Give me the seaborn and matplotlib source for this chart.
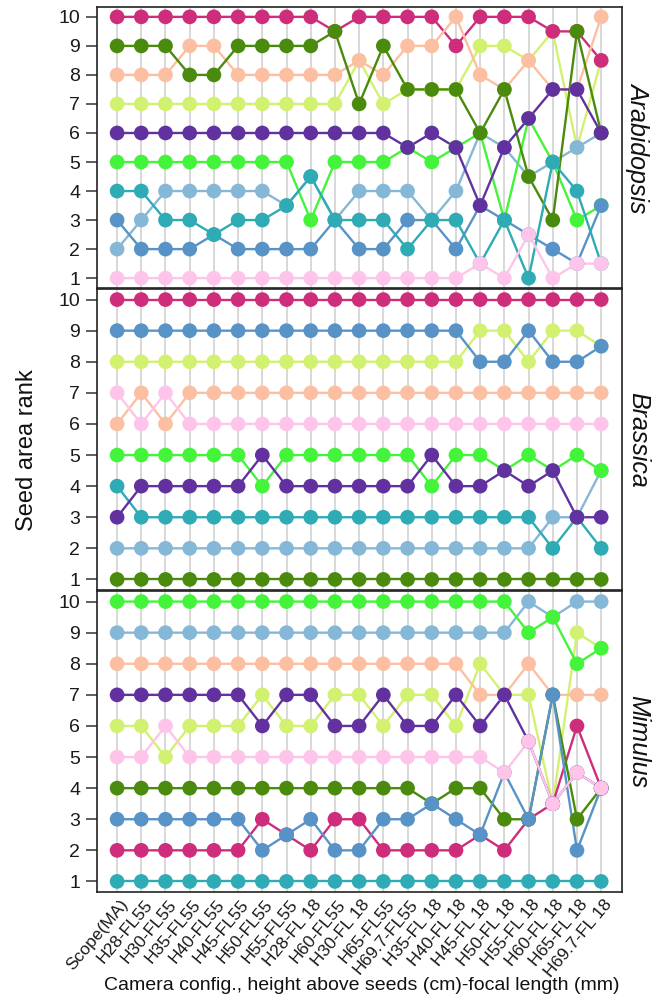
import numpy as np
import pandas as pd
import matplotlib
matplotlib.use("Agg")
import matplotlib.pyplot as plt
import matplotlib.transforms as mtransforms
import seaborn as sns

# ---------------- data ----------------
configs = ["Scope(MA)", "H28-FL55", "H30-FL55", "H35-FL55", "H40-FL55", "H45-FL55",
           "H50-FL55", "H55-FL55", "H28-FL 18", "H60-FL55", "H30-FL 18", "H65-FL55",
           "H69.7-FL55", "H35-FL 18", "H40-FL 18", "H45-FL 18", "H50-FL 18", "H55-FL 18",
           "H60-FL 18", "H65-FL 18", "H69.7-FL 18"]

species = ["Arabidopsis", "Brassica", "Mimulus"]

# seeds in drawing order (later ones on top)
seeds = ["yellowgreen", "lightblue", "brightgreen", "magenta", "salmon",
         "darkgreen", "steelblue", "teal", "purple", "pink"]

# Arabidopsis ranks
arab_magenta = [10, 10, 10, 10, 10, 10, 10, 10, 10, 9.5, 10, 10, 10, 10, 9, 10, 10, 10, 9.5, 9.5, 8.5]
arab_darkgreen = [9, 9, 9, 8, 8, 9, 9, 9, 9, 9.5, 7, 9, 7.5, 7.5, 7.5, 6, 7.5, 4.5, 3, 9.5, 6]
arab_salmon = [8, 8, 8, 9, 9, 8, 8, 8, 8, 8, 8.5, 8, 9, 9, 10, 8, 7.5, 8.5, 7.5, 7.5, 10]
arab_yellowgreen = [7, 7, 7, 7, 7, 7, 7, 7, 7, 7, 8.5, 7, 7.5, 7.5, 7.5, 9, 9, 8.5, 9.5, 5.5, 8.5]
arab_purple = [6, 6, 6, 6, 6, 6, 6, 6, 6, 6, 6, 6, 5.5, 6, 5.5, 3.5, 5.5, 6.5, 7.5, 7.5, 6]
arab_brightgreen = [5, 5, 5, 5, 5, 5, 5, 5, 3, 5, 5, 5, 5.5, 5, 5.5, 6, 3, 6.5, 5, 3, 3.5]
arab_teal = [4, 4, 3, 3, 2.5, 3, 3, 3.5, 4.5, 3, 3, 3, 2, 3, 3, 1.5, 3, 1, 5, 4, 1.5]
arab_steelblue = [3, 2, 2, 2, 2.5, 2, 2, 2, 2, 3, 2, 2, 3, 3, 2, 3.5, 3, 2.5, 2, 1.5, 3.5]
arab_lightblue = [2, 3, 4, 4, 4, 4, 4, 3.5, 4.5, 3, 4, 4, 4, 3, 4, 6, 5.5, 4.5, 5, 5.5, 6]
arab_pink = [1, 1, 1, 1, 1, 1, 1, 1, 1, 1, 1, 1, 1, 1, 1, 1.5, 1, 2.5, 1, 1.5, 1.5]

# Brassica ranks
bras_magenta = [10, 10, 10, 10, 10, 10, 10, 10, 10, 10, 10, 10, 10, 10, 10, 10, 10, 10, 10, 10, 10]
bras_steelblue = [9, 9, 9, 9, 9, 9, 9, 9, 9, 9, 9, 9, 9, 9, 9, 8, 8, 9, 8, 8, 8.5]
bras_yellowgreen = [8, 8, 8, 8, 8, 8, 8, 8, 8, 8, 8, 8, 8, 8, 8, 9, 9, 8, 9, 9, 8.5]
bras_salmon = [6, 7, 6, 7, 7, 7, 7, 7, 7, 7, 7, 7, 7, 7, 7, 7, 7, 7, 7, 7, 7]
bras_pink = [7, 6, 7, 6, 6, 6, 6, 6, 6, 6, 6, 6, 6, 6, 6, 6, 6, 6, 6, 6, 6]
bras_brightgreen = [5, 5, 5, 5, 5, 5, 4, 5, 5, 5, 5, 5, 5, 4, 5, 5, 4.5, 5, 4.5, 5, 4.5]
bras_purple = [3, 4, 4, 4, 4, 4, 5, 4, 4, 4, 4, 4, 4, 5, 4, 4, 4.5, 4, 4.5, 3, 3]
bras_teal = [4, 3, 3, 3, 3, 3, 3, 3, 3, 3, 3, 3, 3, 3, 3, 3, 3, 3, 2, 3, 2]
bras_lightblue = [2, 2, 2, 2, 2, 2, 2, 2, 2, 2, 2, 2, 2, 2, 2, 2, 2, 2, 3, 3, 4.5]
bras_darkgreen = [1, 1, 1, 1, 1, 1, 1, 1, 1, 1, 1, 1, 1, 1, 1, 1, 1, 1, 1, 1, 1]

# Mimulus ranks
mimu_brightgreen = [10, 10, 10, 10, 10, 10, 10, 10, 10, 10, 10, 10, 10, 10, 10, 10, 10, 9, 9.5, 8, 8.5]
mimu_lightblue = [9, 9, 9, 9, 9, 9, 9, 9, 9, 9, 9, 9, 9, 9, 9, 9, 9, 10, 9.5, 10, 10]
mimu_salmon = [8, 8, 8, 8, 8, 8, 8, 8, 8, 8, 8, 8, 8, 8, 8, 7, 7, 8, 7, 7, 7]
mimu_yellowgreen = [6, 6, 5, 6, 6, 6, 7, 6, 6, 7, 7, 6, 7, 7, 6, 8, 7, 7, 3.5, 9, 8.5]
mimu_purple = [7, 7, 7, 7, 7, 7, 6, 7, 7, 6, 6, 7, 6, 6, 7, 6, 7, 5.5, 3.5, 4.5, 4]
mimu_pink = [5, 5, 6, 5, 5, 5, 5, 5, 5, 5, 5, 5, 5, 5, 5, 5, 4.5, 5.5, 3.5, 4.5, 4]
mimu_darkgreen = [4, 4, 4, 4, 4, 4, 4, 4, 4, 4, 4, 4, 4, 3.5, 4, 4, 3, 3, 7, 3, 4]
mimu_steelblue = [3, 3, 3, 3, 3, 3, 2, 2.5, 3, 2, 2, 3, 3, 3.5, 3, 2.5, 4.5, 3, 7, 2, 4]
mimu_magenta = [2, 2, 2, 2, 2, 2, 3, 2.5, 2, 3, 3, 2, 2, 2, 2, 2.5, 2, 3, 3.5, 6, 4]
mimu_teal = [1, 1, 1, 1, 1, 1, 1, 1, 1, 1, 1, 1, 1, 1, 1, 1, 1, 1, 1, 1, 1]

palette = {
    "magenta": "#CE2D7C",
    "darkgreen": "#4A8A0C",
    "salmon": "#FDBFA1",
    "yellowgreen": "#D3F171",
    "purple": "#6231A0",
    "brightgreen": "#44F43A",
    "teal": "#2EABB5",
    "steelblue": "#5893C7",
    "lightblue": "#85B7D7",
    "pink": "#FEC4EA",
}

g = globals()
prefix = {"Arabidopsis": "arab", "Brassica": "bras", "Mimulus": "mimu"}
rows = []
for sp in species:
    for s in seeds:
        vals = g[f"{prefix[sp]}_{s}"]
        for i, v in enumerate(vals):
            rows.append({"species": sp, "seed": s, "x": i, "rank": v})
df = pd.DataFrame(rows)

# ---------------- plot ----------------
sns.set_theme(style="white")
plt.rcParams["font.family"] = ["Liberation Sans", "DejaVu Sans"]

W, H = 665, 1000
fig = plt.figure(figsize=(W / 100, H / 100), dpi=100)

left, right = 97, 622
panels_px = [(7, 288), (289, 590), (591, 892)]

axes = []
for k, sp in enumerate(species):
    top, bot = panels_px[k]
    ax = fig.add_axes([left / W, 1 - bot / H, (right - left) / W, (bot - top) / H])
    axes.append(ax)
    d = df[df["species"] == sp]
    for xi in range(len(configs)):
        ax.axvline(xi, color="#D6D6D6", lw=1.3, zorder=0)
    sns.lineplot(data=d, x="x", y="rank", hue="seed", hue_order=seeds, palette=palette,
                 estimator=None, sort=True, linewidth=1.7, legend=False, ax=ax, zorder=2)
    d_sorted = d.assign(order=d["seed"].map({s: i for i, s in enumerate(seeds)})).sort_values(["order", "x"])
    sns.scatterplot(data=d_sorted, x="x", y="rank", hue="seed", hue_order=seeds, palette=palette,
                    s=112, linewidth=0, legend=False, ax=ax, zorder=3)
    ax.set_xlim(-0.83, 20.86)
    ax.set_ylim(0.66, 10.34)
    ax.set_yticks(range(1, 11))
    ax.set_yticklabels([str(v) for v in range(1, 11)], fontsize=14, color="#1a1a1a")
    ax.tick_params(axis="y", length=8, width=1.1, color="#333333", pad=4, left=True)
    ax.set_xticks(range(len(configs)))
    ax.set_xlabel("")
    ax.set_ylabel("")
    for sp_ in ax.spines.values():
        sp_.set_color("#222222")
        sp_.set_linewidth(1.2)
    ax.grid(False)
    if k < 2:
        ax.set_xticklabels([])
        ax.tick_params(axis="x", length=0)
    else:
        ax.set_xticklabels(configs, rotation=50, ha="right", va="center",
                           rotation_mode="anchor", fontsize=12.5, color="#1a1a1a")
        ax.tick_params(axis="x", length=0, pad=7)
        offset = mtransforms.ScaledTranslation(8 / 100, 0, fig.dpi_scale_trans)
        for lab in ax.get_xticklabels():
            lab.set_transform(lab.get_transform() + offset)
    cy = 1 - (top + bot) / 2 / H
    fig.text(638 / W, cy, sp, rotation=270, fontsize=18, style="italic",
             ha="center", va="center", color="#111111")

fig.text(27 / W, 1 - 450 / H, "Seed area rank", rotation=90, fontsize=17,
         ha="center", va="center", color="#111111")
fig.text(362 / W, 1 - 985 / H, "Camera config., height above seeds (cm)-focal length (mm)",
         fontsize=14, ha="center", va="center", color="#111111")

fig.savefig("out.png", dpi=100)
